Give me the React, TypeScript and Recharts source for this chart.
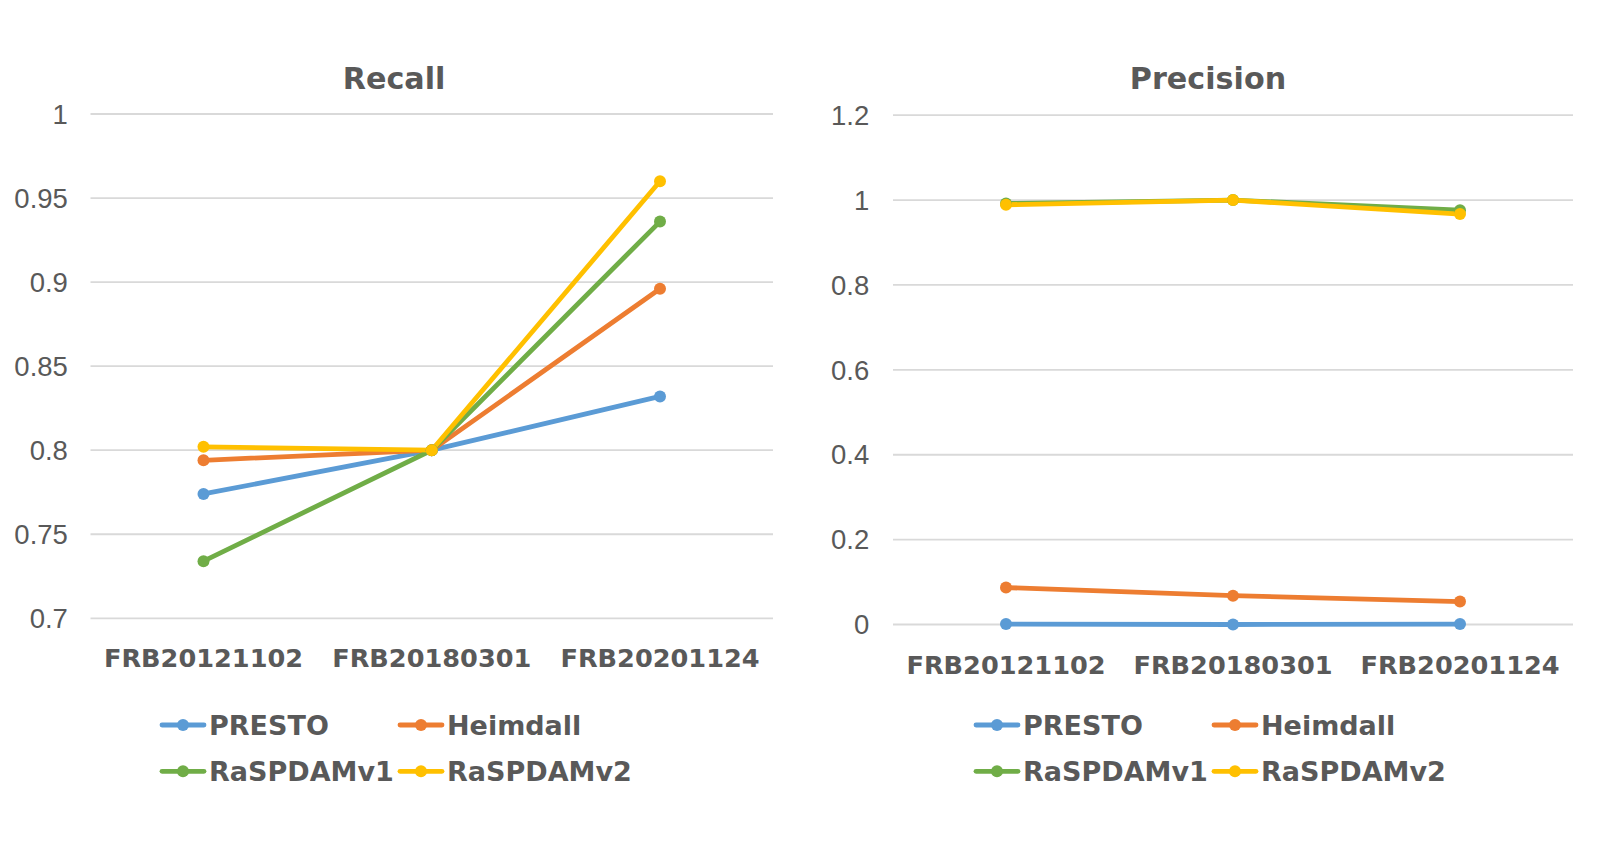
import React from 'react';
import { LineChart, Line, XAxis, YAxis, CartesianGrid } from 'recharts';

const categories = ['FRB20121102', 'FRB20180301', 'FRB20201124'];

const seriesNames = ['PRESTO', 'Heimdall', 'RaSPDAMv1', 'RaSPDAMv2'];
const seriesColors = ['#5B9BD5', '#ED7D31', '#70AD47', '#FFC000'];

const recallPresto = [0.774, 0.8, 0.832];
const recallHeimdall = [0.794, 0.8, 0.896];
const recallV1 = [0.734, 0.8, 0.936];
const recallV2 = [0.802, 0.8, 0.96];

const precisionPresto = [0.001, 0.0, 0.001];
const precisionHeimdall = [0.087, 0.068, 0.054];
const precisionV1 = [0.992, 1.0, 0.976];
const precisionV2 = [0.989, 1.0, 0.967];

const recallTicks = [0.7, 0.75, 0.8, 0.85, 0.9, 0.95, 1];
const precisionTicks = [0, 0.2, 0.4, 0.6, 0.8, 1, 1.2];

const keys = ['presto', 'heimdall', 'v1', 'v2'];

function buildRows(cols: number[][]) {
  return categories.map((name, i) => {
    const row: Record<string, any> = { name };
    keys.forEach((k, j) => (row[k] = cols[j][i]));
    return row;
  });
}

const recallData = buildRows([recallPresto, recallHeimdall, recallV1, recallV2]);
const precisionData = buildRows([precisionPresto, precisionHeimdall, precisionV1, precisionV2]);

const TEXT = '#595959';
const BOLD_FONT = '"DejaVu Sans", sans-serif';
const TICK_FONT = '"Liberation Sans", Arial, sans-serif';

const W = 806;
const H = 843;

interface PanelProps {
  left: number;
  title: string;
  titleX: number;
  data: Record<string, any>[];
  ticks: number[];
  margin: { top: number; right: number; left: number; bottom: number };
  yTickMargin: number;
  legendX: number;
}

function Panel({ left, title, titleX, data, ticks, margin, yTickMargin, legendX }: PanelProps) {
  return (
    <div style={{ position: 'absolute', left, top: 0, width: W, height: H }}>
      <LineChart width={W} height={H} data={data} margin={margin}>
        <CartesianGrid vertical={false} stroke="#D9D9D9" strokeWidth={1.8} />
        <XAxis
          dataKey="name"
          axisLine={false}
          tickLine={false}
          tickSize={0}
          tickMargin={31}
          height={40}
          padding={{ left: 113, right: 113 }}
          interval={0}
          tick={{ fill: TEXT, fontSize: 25.6, fontWeight: 'bold', fontFamily: BOLD_FONT }}
        />
        <YAxis
          width={60}
          domain={[ticks[0], ticks[ticks.length - 1]]}
          ticks={ticks}
          axisLine={false}
          tickLine={false}
          tickSize={0}
          tickMargin={yTickMargin}
          tick={{ fill: TEXT, fontSize: 27.5, fontFamily: TICK_FONT }}
        />
        {keys.map((k, j) => (
          <Line
            key={k}
            dataKey={k}
            name={seriesNames[j]}
            stroke={seriesColors[j]}
            strokeWidth={4.8}
            dot={{ r: 6, fill: seriesColors[j], stroke: 'none' }}
            activeDot={false}
            isAnimationActive={false}
          />
        ))}
      </LineChart>
      <svg
        width={W}
        height={H}
        style={{ position: 'absolute', left: 0, top: 0, pointerEvents: 'none' }}
      >
        <text
          x={titleX}
          y={89}
          textAnchor="middle"
          fill={TEXT}
          fontSize={30.2}
          fontWeight="bold"
          fontFamily={BOLD_FONT}
        >
          {title}
        </text>
        {seriesNames.map((n, j) => {
          const col = j % 2;
          const row = Math.floor(j / 2);
          const x = legendX + col * 238;
          const y = 725 + row * 46.3;
          return (
            <g key={n}>
              <line x1={x} y1={y} x2={x + 42} y2={y} stroke={seriesColors[j]} strokeWidth={4.8} strokeLinecap="round" />
              <circle cx={x + 21} cy={y} r={6} fill={seriesColors[j]} />
              <text
                x={x + 47}
                y={y + 10}
                fill={TEXT}
                fontSize={27}
                fontWeight="bold"
                fontFamily={BOLD_FONT}
              >
                {n}
              </text>
            </g>
          );
        })}
      </svg>
    </div>
  );
}

export default function App() {
  return (
    <div style={{ position: 'absolute', left: 0, top: 0, width: 1612, height: 843, background: '#fff' }}>
      <Panel
        left={0}
        title="Recall"
        titleX={394}
        data={recallData}
        ticks={recallTicks}
        margin={{ top: 114, right: 33, left: 30.5, bottom: H - 618.3 - 40 }}
        yTickMargin={22.6}
        legendX={162}
      />
      <Panel
        left={W}
        title="Precision"
        titleX={1208 - W}
        data={precisionData}
        ticks={precisionTicks}
        margin={{ top: 115.2, right: 39, left: 27, bottom: H - 624.5 - 40 }}
        yTickMargin={23.7}
        legendX={976 - W}
      />
    </div>
  );
}
